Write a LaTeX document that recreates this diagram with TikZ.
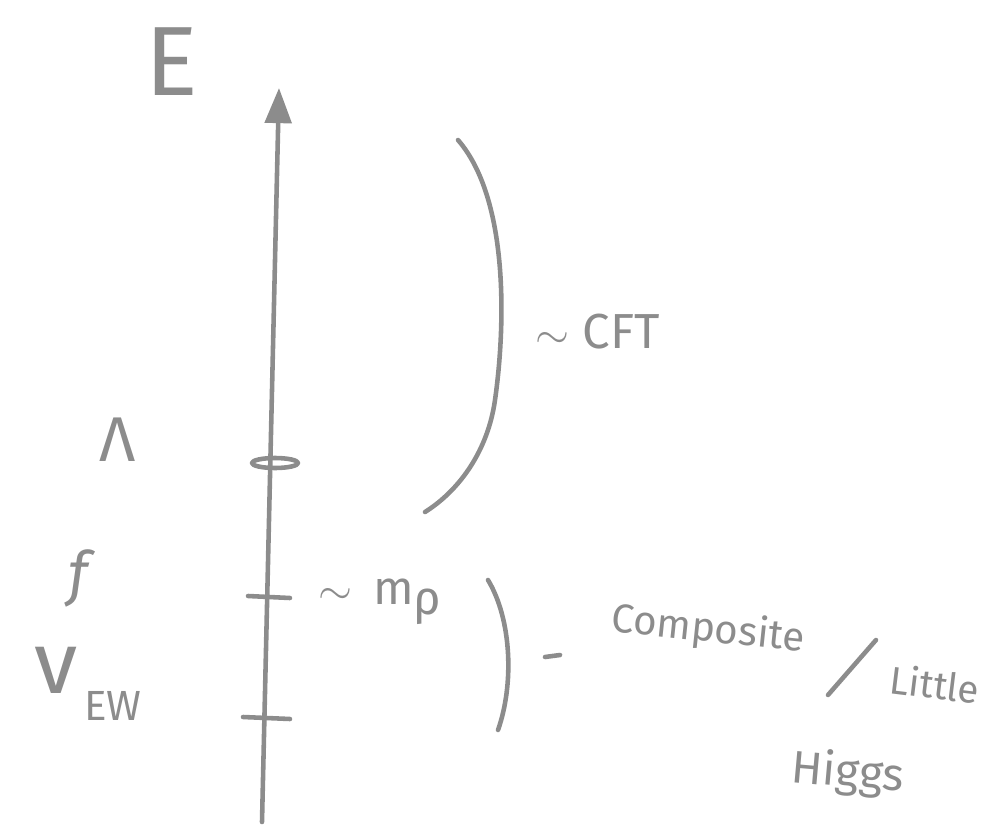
\documentclass[tikz,border=0pt]{standalone}
\usepackage{fontspec}
\setmainfont{Fira Sans}
\usetikzlibrary{arrows.meta}
\definecolor{pencil}{gray}{0.55}
\newcommand{\fs}[1]{\fontsize{#1}{#1}\selectfont}
\begin{document}
\begin{tikzpicture}[x=0.02cm, y=-0.02cm, line width=2.6pt, line cap=round, line join=round, color=pencil, inner sep=1pt]
  \useasboundingbox (0,0) rectangle (985,825);
  % energy axis
  \draw[-{Triangle[length=20pt,width=15pt]}] (262,822) -- (279,88);
  \node[font=\fs{56}] (E) at (172,62) {E};
  % scales and ticks
  \draw (275,463) ellipse [x radius=0.46cm, y radius=0.1cm];
  \draw (248,596) -- (290,598);
  \draw (243,717) -- (290,719);
  \node[font=\fs{36}] (Lam) at (118,440) {Λ};
  \node[font=\fs{34}\itshape] (f) at (78,578) {f};
  \node[font=\fs{50}] (vew) at (88,684) {v\raisebox{-0.3em}{\fs{24}\,EW}};
  \node[font=\fs{27}] (mrho) at (380,602) {$\sim$\, m\raisebox{-0.2em}{ρ}};
  % CFT bracket
  \draw (458,140) .. controls (510,200) and (505,330) .. (495,400)
        .. controls (488,450) and (460,490) .. (425,512);
  \node[font=\fs{28}] (cft) at (598,332) {$\sim$\ CFT};
  % composite bracket
  \draw (488,580) .. controls (512,620) and (514,685) .. (498,730);
  \draw (545,657) -- (560,655);
  \node[font=\fs{23}, rotate=-6] (comp) at (708,630) {Composite};
  \draw (828,695) -- (876,640);
  \node[font=\fs{22}, rotate=-7] (little) at (935,684) {Little};
  \node[font=\fs{26}, rotate=-5] (higgs) at (848,774) {Higgs};
\end{tikzpicture}
\end{document}
